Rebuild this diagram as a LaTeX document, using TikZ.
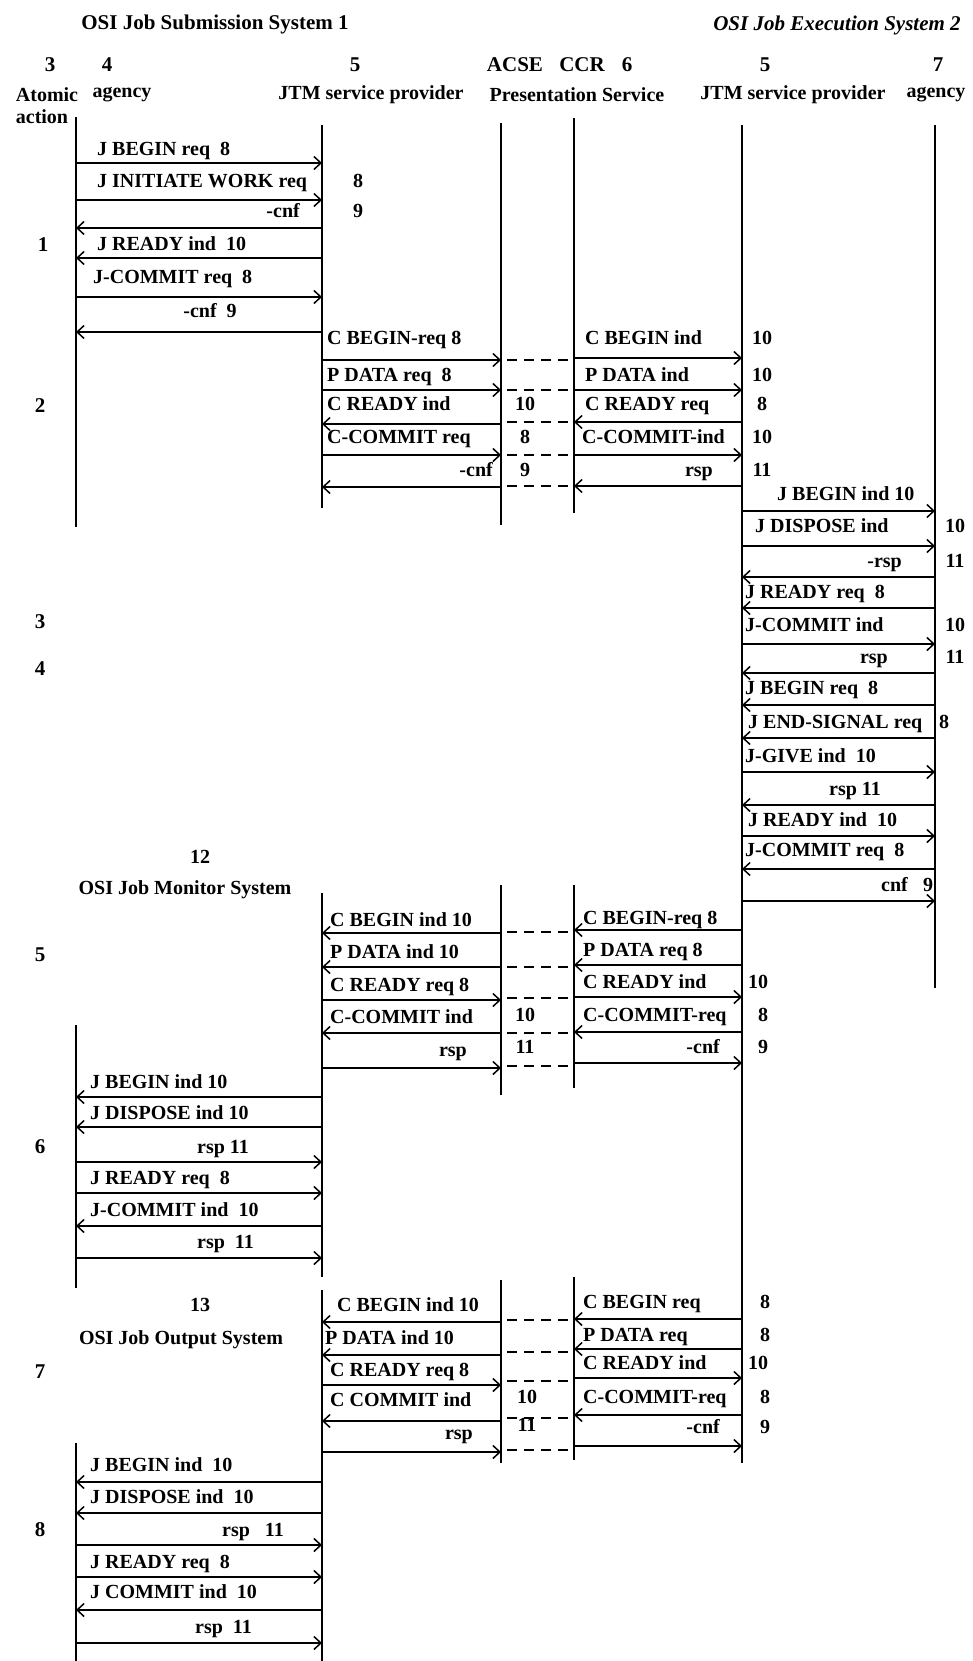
\documentclass[tikz,border=0pt]{standalone}
\usepackage{fontspec}
\setmainfont{Liberation Serif}
\usetikzlibrary{arrows.meta,calc}
\newcounter{labc}
\newcommand\lab[4]{\stepcounter{labc}\node[lab,anchor=#3] (t\arabic{labc}) at (#1,#2+6) {#4};}
\newcommand\mymsg[3]{\draw[msg] ($(#1)+(0,#3)$) -- ($(#2)+(0,#3)$);}
\newcommand\mydash[1]{\draw[dsh] ($(acse)+(6,#1)$) -- ($(ccr)+(-6,#1)$);}
\newcommand\life[3]{\draw[lifeline] ($(#1)+(0,#2)$) -- ($(#1)+(0,#3)$);}
\begin{document}
\begin{tikzpicture}[x=1pt,y=-1pt,
  lab/.style={font=\bfseries\fontsize{20}{24}\selectfont, inner sep=0pt},
  ttl/.style={font=\bfseries\fontsize{21}{25}\selectfont, inner sep=0pt},
  msg/.style={line width=1.6pt, -{Straight Barb[length=7pt,width=13pt,line width=1.5pt]}},
  dsh/.style={line width=1.6pt, dash pattern=on 10pt off 7pt},
  lifeline/.style={line width=2pt}]
\useasboundingbox (0,0) rectangle (973,1661);
% lifeline positions
\coordinate (ag) at (76,0);
\coordinate (jtm) at (322,0);
\coordinate (acse) at (501,0);
\coordinate (ccr) at (574,0);
\coordinate (jtmb) at (742,0);
\coordinate (agb) at (935,0);
% headings
\node[ttl] (h1) at (215,24) {OSI Job Submission System 1};
\node[ttl,font=\bfseries\itshape\fontsize{21}{25}\selectfont] (h2) at (837,25) {OSI Job Execution System 2};
\node[ttl] (n3) at (50,65) {3};
\node[ttl] (n4) at (107,65) {4};
\node[ttl] (n5a) at (355,65) {5};
\node[ttl] (nacse) at (515,65) {ACSE};
\node[ttl] (nccr) at (582,65) {CCR};
\node[ttl] (n6) at (627,65) {6};
\node[ttl] (n5b) at (765,65) {5};
\node[ttl] (n7) at (938,65) {7};
\node[lab] (c1) at (47,95) {Atomic};
\node[lab] (c1b) at (42,117) {action};
\node[lab] (c2) at (122,95) {agency};
\node[lab] (c3) at (371,95) {JTM service provider};
\node[lab] (c4) at (577,95) {Presentation Service};
\node[lab] (c5) at (793,95) {JTM service provider};
\node[lab] (c6) at (936,95) {agency};
% atomic action numbers
\node[ttl] (a1) at (43,245) {1};
\node[ttl] (a2) at (40,406) {2};
\node[ttl] (a3) at (40,622) {3};
\node[ttl] (a4) at (40,669) {4};
\node[ttl] (a5) at (40,955) {5};
\node[ttl] (a6) at (40,1147) {6};
\node[ttl] (a7) at (40,1372) {7};
\node[ttl] (a8) at (40,1530) {8};
% other system titles
\node[lab] (s12) at (200,857) {12};
\node[lab] (s12t) at (185,890) {OSI Job Monitor System};
\node[lab] (s13) at (200,1305) {13};
\node[lab] (s13t) at (181,1340) {OSI Job Output System};
% ---------- lifelines ----------
\life{ag}{117}{527}
\life{jtm}{125}{508}
\life{acse}{123}{525}
\life{ccr}{118}{513}
\life{jtmb}{125}{1463}
\life{agb}{125}{988}
\life{jtm}{893}{1277}
\life{ag}{1025}{1288}
\life{acse}{885}{1095}
\life{ccr}{885}{1088}
\life{jtm}{1290}{1661}
\life{ag}{1443}{1661}
\life{acse}{1280}{1463}
\life{ccr}{1277}{1460}
% ---------- section 1 ----------
\mymsg{ag}{jtm}{163}  \lab{97}{150}{base west}{J BEGIN req\ \ 8}
\mymsg{ag}{jtm}{200}  \lab{97}{182}{base west}{J INITIATE WORK req} \lab{358}{182}{base}{8}
\mymsg{jtm}{ag}{228}  \lab{300}{212}{base east}{-cnf} \lab{358}{212}{base}{9}
\mymsg{jtm}{ag}{258}  \lab{97}{245}{base west}{J READY ind\ \ 10}
\mymsg{ag}{jtm}{297}  \lab{93}{278}{base west}{J-COMMIT req\ \ 8}
\mymsg{jtm}{ag}{332}  \lab{210}{312}{base}{-cnf\ \ 9}
% ---------- section 2 ----------
\mymsg{jtm}{acse}{360} \lab{327}{338}{base west}{C BEGIN-req 8}
\mymsg{jtm}{acse}{390} \lab{327}{375}{base west}{P DATA req\ \ 8}
\mymsg{acse}{jtm}{424} \lab{327}{404}{base west}{C READY ind} \lab{525}{404}{base}{10}
\mymsg{jtm}{acse}{455} \lab{327}{437}{base west}{C-COMMIT req} \lab{525}{437}{base}{8}
\mymsg{acse}{jtm}{487} \lab{493}{470}{base east}{-cnf} \lab{525}{470}{base}{9}
\mymsg{ccr}{jtmb}{358} \lab{585}{338}{base west}{C BEGIN ind} \lab{762}{338}{base}{10}
\mymsg{ccr}{jtmb}{390} \lab{585}{375}{base west}{P DATA ind} \lab{762}{375}{base}{10}
\mymsg{jtmb}{ccr}{422} \lab{585}{404}{base west}{C READY req} \lab{762}{404}{base}{8}
\mymsg{ccr}{jtmb}{455} \lab{582}{437}{base west}{C-COMMIT-ind} \lab{762}{437}{base}{10}
\mymsg{jtmb}{ccr}{486} \lab{713}{470}{base east}{rsp} \lab{762}{470}{base}{11}
\mydash{360} \mydash{390} \mydash{422} \mydash{455} \mydash{486}
% ---------- section 3 ----------
\mymsg{jtmb}{agb}{511} \lab{777}{494}{base west}{J BEGIN ind 10}
\mymsg{jtmb}{agb}{546} \lab{755}{526}{base west}{J DISPOSE ind} \lab{955}{526}{base}{10}
\mymsg{agb}{jtmb}{577} \lab{902}{561}{base east}{-rsp} \lab{955}{561}{base}{11}
\mymsg{agb}{jtmb}{608} \lab{745}{592}{base west}{J READY req\ \ 8}
\mymsg{jtmb}{agb}{644} \lab{745}{625}{base west}{J-COMMIT ind} \lab{955}{625}{base}{10}
\mymsg{agb}{jtmb}{673} \lab{888}{657}{base east}{rsp} \lab{955}{657}{base}{11}
\mymsg{agb}{jtmb}{705} \lab{745}{688}{base west}{J BEGIN req\ \ 8}
\mymsg{agb}{jtmb}{738} \lab{748}{722}{base west}{J END-SIGNAL req} \lab{939}{722}{base west}{8}
\mymsg{jtmb}{agb}{772} \lab{745}{756}{base west}{J-GIVE ind\ \ 10}
\mymsg{agb}{jtmb}{805} \lab{829}{789}{base west}{rsp 11}
\mymsg{jtmb}{agb}{836} \lab{748}{820}{base west}{J READY ind\ \ 10}
\mymsg{agb}{jtmb}{869} \lab{745}{850}{base west}{J-COMMIT req\ \ 8}
\mymsg{jtmb}{agb}{901} \lab{908}{885}{base east}{cnf} \lab{928}{885}{base}{9}
% ---------- section 5 ----------
\mymsg{acse}{jtm}{933}  \lab{330}{920}{base west}{C BEGIN ind 10}
\mymsg{acse}{jtm}{967}  \lab{330}{952}{base west}{P DATA ind 10}
\mymsg{jtm}{acse}{1000} \lab{330}{985}{base west}{C READY req 8}
\mymsg{acse}{jtm}{1033} \lab{330}{1017}{base west}{C-COMMIT ind} \lab{525}{1015}{base}{10}
\mymsg{jtm}{acse}{1068} \lab{467}{1050}{base east}{rsp} \lab{525}{1047}{base}{11}
\mymsg{jtmb}{ccr}{930}  \lab{583}{918}{base west}{C BEGIN-req 8}
\mymsg{jtmb}{ccr}{965}  \lab{583}{950}{base west}{P DATA req 8}
\mymsg{ccr}{jtmb}{997}  \lab{583}{982}{base west}{C READY ind} \lab{758}{982}{base}{10}
\mymsg{jtmb}{ccr}{1032} \lab{583}{1015}{base west}{C-COMMIT-req} \lab{763}{1015}{base}{8}
\mymsg{ccr}{jtmb}{1063} \lab{720}{1047}{base east}{-cnf} \lab{763}{1047}{base}{9}
\mydash{932} \mydash{967} \mydash{998} \mydash{1033} \mydash{1066}
% ---------- section 6 ----------
\mymsg{jtm}{ag}{1097} \lab{90}{1082}{base west}{J BEGIN ind 10}
\mymsg{jtm}{ag}{1127} \lab{90}{1113}{base west}{J DISPOSE ind 10}
\mymsg{ag}{jtm}{1162} \lab{197}{1147}{base west}{rsp 11}
\mymsg{ag}{jtm}{1193} \lab{90}{1178}{base west}{J READY req\ \ 8}
\mymsg{jtm}{ag}{1226} \lab{90}{1210}{base west}{J-COMMIT ind\ \ 10}
\mymsg{ag}{jtm}{1258} \lab{197}{1242}{base west}{rsp\ \ 11}
% ---------- section 7 ----------
\mymsg{acse}{jtm}{1322} \lab{337}{1305}{base west}{C BEGIN ind 10}
\mymsg{acse}{jtm}{1355} \lab{325}{1338}{base west}{P DATA ind 10}
\mymsg{jtm}{acse}{1385} \lab{330}{1370}{base west}{C READY req 8}
\mymsg{acse}{jtm}{1421} \lab{330}{1400}{base west}{C COMMIT ind} \lab{527}{1397}{base}{10}
\mymsg{jtm}{acse}{1452} \lab{473}{1433}{base east}{rsp} \lab{527}{1425}{base}{11}
\mymsg{jtmb}{ccr}{1319} \lab{583}{1302}{base west}{C BEGIN req} \lab{765}{1302}{base}{8}
\mymsg{jtmb}{ccr}{1349} \lab{583}{1335}{base west}{P DATA req} \lab{765}{1335}{base}{8}
\mymsg{ccr}{jtmb}{1378} \lab{583}{1363}{base west}{C READY ind} \lab{758}{1363}{base}{10}
\mymsg{jtmb}{ccr}{1415} \lab{583}{1397}{base west}{C-COMMIT-req} \lab{765}{1397}{base}{8}
\mymsg{ccr}{jtmb}{1446} \lab{720}{1427}{base east}{-cnf} \lab{765}{1427}{base}{9}
\mydash{1320} \mydash{1352} \mydash{1381} \mydash{1418} \mydash{1450}
% ---------- section 8 ----------
\mymsg{jtm}{ag}{1482} \lab{90}{1465}{base west}{J BEGIN ind\ \ 10}
\mymsg{jtm}{ag}{1513} \lab{90}{1497}{base west}{J DISPOSE ind\ \ 10}
\mymsg{ag}{jtm}{1545} \lab{222}{1530}{base west}{rsp\ \ \ 11}
\mymsg{ag}{jtm}{1577} \lab{90}{1562}{base west}{J READY req\ \ 8}
\mymsg{jtm}{ag}{1610} \lab{90}{1592}{base west}{J COMMIT ind\ \ 10}
\mymsg{ag}{jtm}{1643} \lab{195}{1627}{base west}{rsp\ \ 11}
\end{tikzpicture}
\end{document}
